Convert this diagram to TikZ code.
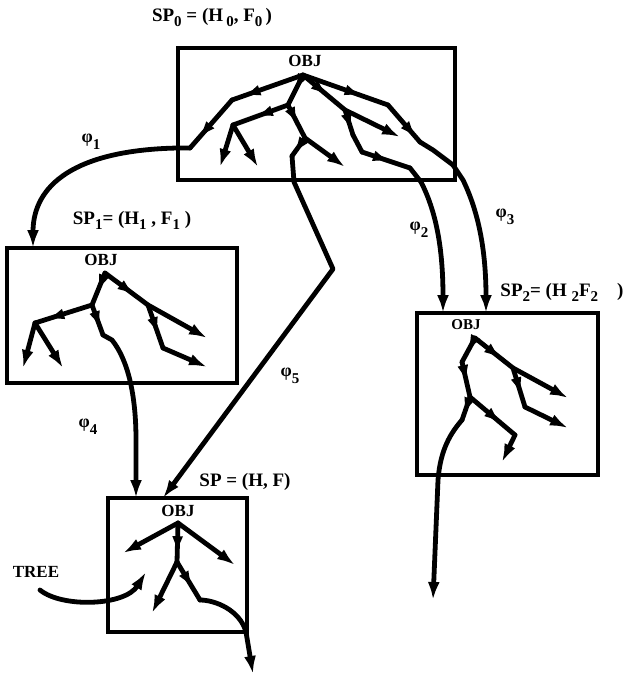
\documentclass[tikz,border=0pt]{standalone}
\usepackage{fontspec}
\setmainfont{Liberation Serif}
\usetikzlibrary{arrows.meta,decorations.markings}
% lowered index figure, as set beside the letters of the labels
\newcommand\dn[1]{\raisebox{-5pt}{\fontsize{15}{15}\selectfont #1}}
\newcommand\phl[1]{φ\raisebox{-7pt}{\fontsize{15}{15}\selectfont #1}}
\tikzset{
  frame/.style={draw, line width=4pt, inner sep=0pt},
  br/.style={line width=4.8pt, line cap=round, line join=round},
  lf/.style={br, -{Latex[length=18pt,width=12pt]}},
  via/.style={postaction={decorate}, decoration={markings,
      mark=at position #1 with {\arrow{Latex[length=18pt,width=11pt]}}}},
  via/.default=0.6,
  lab/.style={font=\fontsize{19}{19}\selectfont\bfseries, inner sep=0pt},
  obj/.style={font=\fontsize{17}{17}\selectfont\bfseries, inner sep=0pt},
  phi/.style={font=\fontsize{18}{18}\selectfont\bfseries, inner sep=0pt},
}
\begin{document}
\begin{tikzpicture}[x=1pt,y=-1pt]
\useasboundingbox (0,0) rectangle (626,679);

% ---- state frames ----
\node[frame, minimum width=277pt, minimum height=132pt] (b0) at (316.5,114) {};
\node[frame, minimum width=230pt, minimum height=135pt] (b1) at (122,315.5) {};
\node[frame, minimum width=181pt, minimum height=162pt] (b2) at (507.5,394) {};
\node[frame, minimum width=139pt, minimum height=134pt] (b3) at (177.5,565) {};

% ---- state labels ----
\node[lab] (sp0) at (212,17) {SP\dn{0} = (H\,\dn{0}, F\dn{0}\,)};
\node[lab] (sp1) at (132,220) {SP\dn{1}= (H\dn{1} , F\dn{1} )};
\node[lab] (sp2) at (562,292) {SP\dn{2}= (H \dn{2}F\dn{2}\quad)};
\node[lab] (sp3) at (245,482) {SP = (H, F)};

\node[obj] (o0) at (305,61) {OBJ};
\node[obj] (o1) at (101,260) {OBJ};
\node[obj, font=\fontsize{15}{15}\selectfont\bfseries] (o2) at (466,325) {OBJ};
\node[obj] (o3) at (178,511) {OBJ};

\node[lab, font=\fontsize{17}{17}\selectfont\bfseries] (tree) at (36,572) {TREE};

% ---- transition labels ----
\node[phi] (f1) at (91,142) {\phl{1}};
\node[phi] (f2) at (419,230) {\phl{2}};
\node[phi] (f3) at (505,217) {\phl{3}};
\node[phi] (f4) at (88,427) {\phl{4}};
\node[phi] (f5) at (290,376) {\phl{5}};

% ---- tree points, frame SP0 ----
\coordinate (r0) at (303,75);
\coordinate (a1) at (232,100);
\coordinate (a2) at (190,148);
\coordinate (a3) at (178,148);
\coordinate (bb) at (288,105);
\coordinate (c0) at (233,125);
\coordinate (c1) at (220,167);
\coordinate (c2) at (258,167);
\coordinate (d0) at (305,138);
\coordinate (d1) at (345,167);
\coordinate (d2) at (292,156);
\coordinate (d3) at (294,182);
\coordinate (d4) at (333,269);
\coordinate (e0) at (345,110);
\coordinate (e1) at (400,137);
\coordinate (f0) at (353,135);
\coordinate (g0) at (362,152);
\coordinate (h0) at (410,168);
\coordinate (h1) at (421,182);
\coordinate (i0) at (388,105);
\coordinate (j0) at (420,142);
\coordinate (k0) at (433,150);
\coordinate (l0) at (453,165);
\coordinate (l1) at (463,180);

% ---- tree points, frame SP1 ----
\coordinate (s0) at (105,273);
\coordinate (s1) at (92,305);
\coordinate (s2) at (35,323);
\coordinate (s2a) at (23,368);
\coordinate (s2b) at (63,368);
\coordinate (s3) at (103,335);
\coordinate (s3a) at (112,340);
\coordinate (s4) at (148,305);
\coordinate (s4a) at (207,338);
\coordinate (s5) at (163,348);
\coordinate (s5a) at (207,367);

% ---- tree points, frame SP2 ----
\coordinate (t0) at (475,338);
\coordinate (t1) at (513,368);
\coordinate (t1a) at (568,398);
\coordinate (t2) at (525,407);
\coordinate (t2a) at (568,428);
\coordinate (t3) at (462,362);
\coordinate (t4) at (470,397);
\coordinate (t5) at (515,435);
\coordinate (t5a) at (502,462);
\coordinate (t6) at (462,420);
\coordinate (t7) at (433,600);

% ---- tree points, frame SP ----
\coordinate (u0) at (178,523);
\coordinate (u0a) at (123,553);
\coordinate (u0b) at (235,565);
\coordinate (u1) at (177,562);
\coordinate (u1a) at (152,613);
\coordinate (u2) at (200,600);
\coordinate (u3) at (253,674);

% ---- entry points on the frames ----
\coordinate (in1) at (33,248);
\coordinate (in2) at (443,313);
\coordinate (in3) at (486,313);
\coordinate (in4) at (136,498);
\coordinate (in5) at (163,498);
\coordinate (tr0) at (40,590);
\coordinate (tr1) at (146,572);

% ---- tree in SP0 ----
\draw[br, via=0.85] (r0) -- (a1);
\draw[br, via=0.8] (a1) -- (a2);
\draw[br, via=0.55] (r0) -- (bb);
\draw[br, via=0.6] (bb) -- (c0);
\draw[lf] (c0) -- (c1);
\draw[lf] (c0) -- (c2);
\draw[br, via=0.6] (bb) -- (d0);
\draw[lf] (d0) -- (d1);
\draw[br, via=0.9] (d0) -- (d2);
\draw[br, via=0.6] (r0) -- (e0);
\draw[lf] (e0) -- (e1);
\draw[br, via=0.85] (e0) -- (f0);
\draw[br] (f0) -- (g0);
\draw[br, via=0.6] (g0) -- (h0);
\draw[br, via=0.7] (r0) -- (i0);
\draw[br, via=0.9] (i0) -- (j0);
\draw[br] (j0) -- (k0) -- (l0);

% ---- transitions ----
\draw[lf] (a2) -- (a3) .. controls (75,150) and (33,185) .. (in1);
\draw[lf] (h0) -- (h1) .. controls (438,215) and (443,255) .. (in2);
\draw[lf] (l0) -- (l1) .. controls (480,215) and (486,255) .. (in3);
\draw[lf] (d2) -- (d3) -- (d4) -- (in5);
\draw[lf] (s3) -- (s3a) .. controls (128,360) and (136,395) .. (136,440) -- (in4);

% ---- tree in SP1 ----
\draw[br, via=0.6] (s0) -- (s1);
\draw[br, via=0.8] (s1) -- (s2);
\draw[lf] (s2) -- (s2a);
\draw[lf] (s2) -- (s2b);
\draw[br, via=0.8] (s1) -- (s3);
\draw[br, via=0.7] (s0) -- (s4);
\draw[lf] (s4) -- (s4a);
\draw[br, via=0.7] (s4) -- (s5);
\draw[lf] (s5) -- (s5a);

% ---- tree in SP2 ----
\draw[br, via=0.7] (t0) -- (t1);
\draw[lf] (t1) -- (t1a);
\draw[br, via=0.7] (t1) -- (t2);
\draw[lf] (t2) -- (t2a);
\draw[br, via=0.6] (t0) -- (t3);
\draw[br, via=0.6] (t3) -- (t4);
\draw[br, via=0.7] (t4) -- (t5);
\draw[lf] (t5) -- (t5a);
\draw[br, via=0.8] (t4) -- (t6);
\draw[lf] (t6) .. controls (447,437) and (440,455) .. (438,480) -- (t7);

% ---- tree in SP ----
\draw[lf] (u0) -- (u0a);
\draw[lf] (u0) -- (u0b);
\draw[br, via=0.8] (u0) -- (u1);
\draw[lf] (u1) -- (u1a);
\draw[br, via=0.7] (u1) -- (u2);
\draw[lf] (u2) .. controls (215,600) and (240,610) .. (246,632) -- (u3);

% ---- pointer to the tree ----
\draw[lf] (tr0) .. controls (62,608) and (125,606) .. (tr1);
\end{tikzpicture}
\end{document}
